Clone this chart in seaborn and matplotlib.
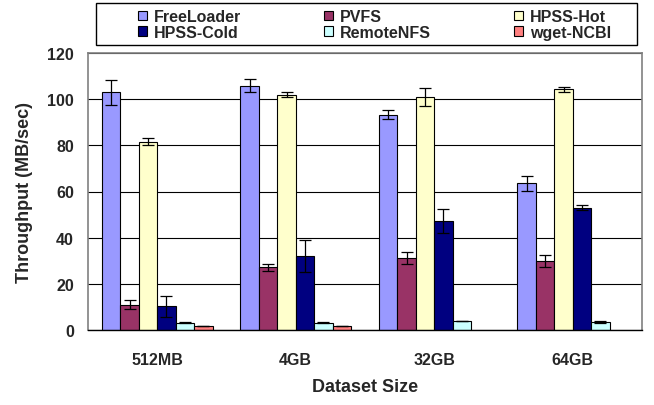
import numpy as np
import pandas as pd
import matplotlib
matplotlib.use("Agg")
import matplotlib.pyplot as plt
from matplotlib.patches import Rectangle, Patch
import seaborn as sns

sizes = ["512MB", "4GB", "32GB", "64GB"]
systems = ["FreeLoader", "PVFS", "HPSS-Hot", "HPSS-Cold", "RemoteNFS", "wget-NCBI"]
colors = ["#9999FF", "#993366", "#FFFFCC", "#000080", "#CCFFFF", "#FF8080"]

freeloader = [103.0, 105.8, 93.2, 63.6]
freeloader_err = [5.4, 2.8, 1.9, 3.3]
pvfs = [11.0, 27.1, 31.2, 29.9]
pvfs_err = [2.0, 1.5, 2.6, 2.4]
hpss_hot = [81.6, 102.0, 101.0, 104.3]
hpss_hot_err = [1.4, 1.0, 4.0, 1.0]
hpss_cold = [10.2, 32.2, 47.4, 53.0]
hpss_cold_err = [4.6, 7.0, 5.2, 1.0]
remote_nfs = [3.1, 3.1, 3.9, 3.3]
remote_nfs_err = [0.2, 0.2, 0.2, 0.4]
wget_ncbi = [1.7, 1.7, np.nan, np.nan]
wget_ncbi_err = [0.1, 0.1, np.nan, np.nan]

values = [freeloader, pvfs, hpss_hot, hpss_cold, remote_nfs, wget_ncbi]
errors = [freeloader_err, pvfs_err, hpss_hot_err, hpss_cold_err, remote_nfs_err, wget_ncbi_err]

rows = []
for s, vals, errs in zip(systems, values, errors):
    for size, v, e in zip(sizes, vals, errs):
        rows.append({"size": size, "system": s, "throughput": v, "err": e})
df = pd.DataFrame(rows)

sns.set_style("white")
plt.rcParams["font.family"] = ["Liberation Sans", "DejaVu Sans"]
plt.rcParams["font.weight"] = "bold"

fig = plt.figure(figsize=(6.54, 4.06), dpi=100)
ax = fig.add_axes([88 / 654, 75 / 406, (642 - 88) / 654, (331 - 54) / 406])

sns.barplot(data=df.dropna(subset=["throughput"]), x="size", y="throughput", hue="system",
            order=sizes, hue_order=systems, palette=colors, saturation=1, errorbar=None,
            edgecolor="black", linewidth=0.8, width=0.8, ax=ax, legend=False, zorder=3)

# error bars on top of each bar
for cont, s in zip(ax.containers, systems):
    sub = df[df["system"] == s].set_index("size")
    for patch in cont.patches:
        xc = patch.get_x() + patch.get_width() / 2
        size = sizes[int(round(xc))]
        e = sub.loc[size, "err"]
        ax.errorbar(xc, patch.get_height(), yerr=e, color="black", lw=0.9,
                    capsize=4, capthick=0.9, zorder=4)

ax.set_xlim(-0.5, 3.5)
ax.set_ylim(0, 120)
ax.set_yticks(range(0, 121, 20))
ax.set_xticks(range(4))
ax.set_xticklabels(sizes, fontsize=11.5, fontweight="bold")
ax.set_xticks(np.arange(-0.5, 4, 1), minor=True)
ax.tick_params(axis="x", which="major", length=0, pad=16)
ax.tick_params(axis="x", which="minor", length=4, width=0.8, color="black", direction="out")
ax.tick_params(axis="y", length=5, width=0.8, color="black", direction="out", labelsize=11.5, pad=5)
for lab in ax.get_yticklabels():
    lab.set_fontweight("bold")

ax.yaxis.grid(True, color="black", lw=0.8, zorder=0)
ax.set_axisbelow(True)
for side in ["left", "top", "right"]:
    ax.spines[side].set_color("#808080")
    ax.spines[side].set_linewidth(1.2)
    ax.spines[side].set_zorder(5)
ax.spines["bottom"].set_color("black")
ax.spines["bottom"].set_linewidth(1.0)
ax.spines["bottom"].set_zorder(5)

ax.set_xlabel("Dataset Size", fontsize=13, fontweight="bold", labelpad=8)
ax.set_ylabel("Throughput (MB/sec)", fontsize=13, fontweight="bold", labelpad=10)

# legend: row-wise order in 3 columns
handles = [Patch(facecolor=c, edgecolor="black", lw=0.8) for c in colors]
order = [0, 3, 1, 4, 2, 5]
fig.legend([handles[i] for i in order], [systems[i] for i in order], ncol=3,
           loc="center left", bbox_to_anchor=(130 / 654, 1 - 25.5 / 406), frameon=False,
           fontsize=11.5, handlelength=0.55, handleheight=0.55, handletextpad=0.45,
           columnspacing=5.2, labelspacing=0.05, borderpad=0)
fig.patches.append(Rectangle((96 / 654, 1 - 46 / 406), (637 - 96) / 654, 42 / 406,
                             transform=fig.transFigure, fill=False, edgecolor="black", lw=1.0))

fig.savefig("out.png", dpi=100)
